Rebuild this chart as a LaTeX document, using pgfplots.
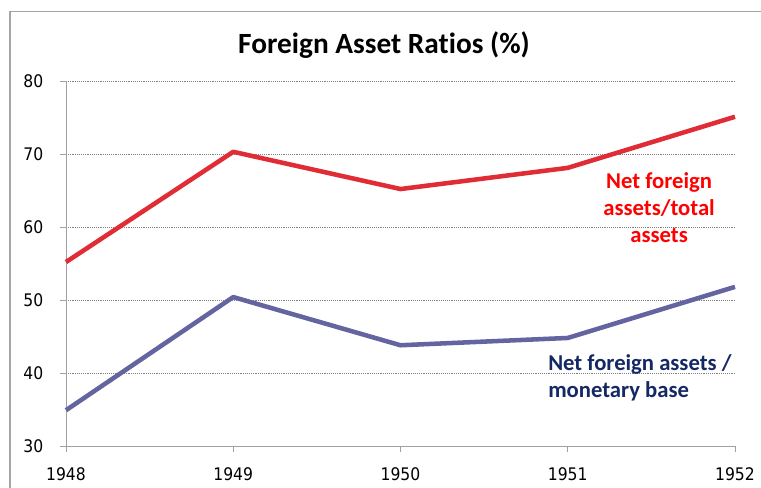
\documentclass[border=0pt]{standalone}
\usepackage{pgfplots}
\pgfplotsset{compat=1.18}
\usepackage{fontspec}
\setmainfont{Carlito}[Ligatures=NoCommon]
\newfontfamily\tickfont{DejaVu Sans Condensed}

\definecolor{redline}{RGB}{224,44,52}
\definecolor{blueline}{RGB}{100,100,160}
\definecolor{navytext}{RGB}{20,40,100}
\definecolor{axisgray}{RGB}{160,160,160}
\definecolor{framegray}{RGB}{165,165,165}

\begin{document}
\begin{tikzpicture}
\useasboundingbox (-49.5pt,-31.5pt) rectangle (521.25pt,334.5pt);
% outer chart frame (cut off at right and bottom in the reference)
\draw[framegray, line width=0.8pt] (-42pt,-31.5pt) -- (-42pt,325.9pt) -- (521.25pt,325.9pt);
\node[font=\bfseries\fontsize{22}{26}\selectfont] at (238.5pt,301pt) {Foreign Asset Ratios (\%)};

\begin{axis}[
    at={(0,0)}, anchor=south west,
    scale only axis,
    width=501.75pt, height=273.75pt,
    xmin=1948, xmax=1952,
    ymin=30, ymax=80,
    xtick={1948,1949,1950,1951,1952},
    ytick={30,40,50,60,70,80},
    axis x line=bottom, axis y line=left,
    axis line style={axisgray, line width=0.6pt, -},
    tick style={axisgray, line width=0.6pt},
    tick align=outside,
    major tick length=4.5pt,
    ymajorgrids,
    grid style={gray, densely dotted, line width=0.4pt},
    ticklabel style={font=\tickfont\fontsize{13}{15}\selectfont},
    xticklabel style={yshift=-8pt},
    yticklabel style={xshift=-9pt},
    /pgf/number format/assume math mode=true,
    /pgf/number format/1000 sep={},
    clip=false,
]
\addplot[redline, line width=3.4pt, line join=round] coordinates {
    (1948,55.2) (1949,70.3) (1950,65.2) (1951,68.1) (1952,75.1)
};
\addplot[blueline, line width=3.4pt, line join=round] coordinates {
    (1948,34.9) (1949,50.4) (1950,43.8) (1951,44.8) (1952,51.8)
};
\begin{scope}[font=\bfseries\fontsize{17}{20}\selectfont]
\node[red, anchor=base] at (axis cs:1951.546,65.21) {Net foreign};
\node[red, anchor=base] at (axis cs:1951.546,61.51) {assets/total};
\node[red, anchor=base] at (axis cs:1951.546,57.81) {assets};
\node[navytext, anchor=base west, inner sep=0pt] at (axis cs:1950.882,40.41) {Net foreign assets /};
\node[navytext, anchor=base west, inner sep=0pt] at (axis cs:1950.882,36.58) {monetary base};
\end{scope}
\end{axis}
\end{tikzpicture}
\end{document}
